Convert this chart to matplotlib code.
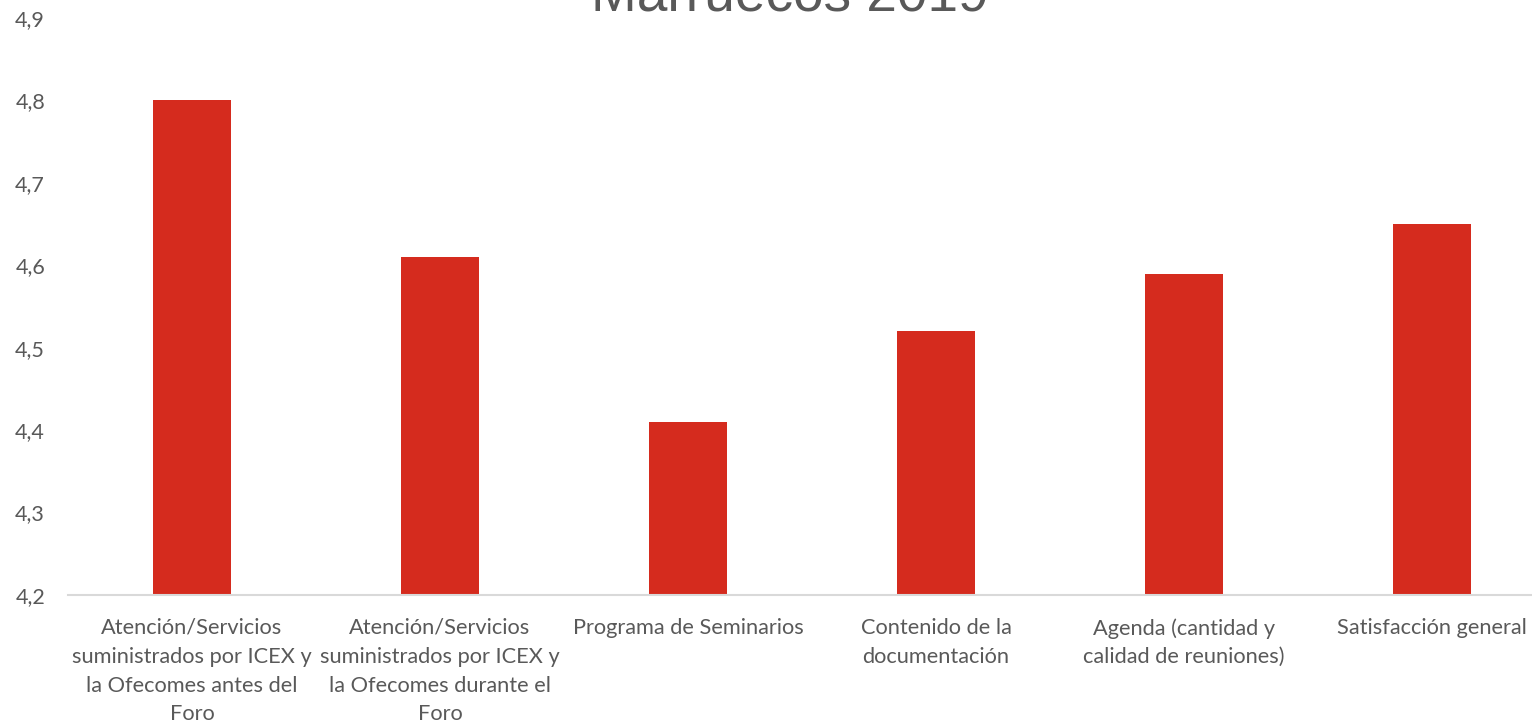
import matplotlib.pyplot as plt
from matplotlib.ticker import FuncFormatter

categorias = [
    "Atención/Servicios\nsuministrados por ICEX y\nla Ofecomes antes del\nForo",
    "Atención/Servicios\nsuministrados por ICEX y\nla Ofecomes durante el\nForo",
    "Programa de Seminarios",
    "Contenido de la\ndocumentación",
    "Agenda (cantidad y\ncalidad de reuniones)",
    "Satisfacción general",
]
valores = [4.80, 4.61, 4.41, 4.52, 4.59, 4.65]
yticks = [4.2, 4.3, 4.4, 4.5, 4.6, 4.7, 4.8, 4.9]

W, H = 1532, 724
fig = plt.figure(figsize=(W / 100, H / 100), dpi=100)
ax = fig.add_axes([68 / W, 1 - 595 / H, (W - 68) / W, (595 - 18) / H])

x = range(len(valores))
ax.bar(x, valores, width=0.315, color="#D52B1E", zorder=2)

ax.set_ylim(4.2, 4.9)
ax.set_xlim(-0.5, 5 + 100 / 248)
ax.set_yticks(yticks)
ax.yaxis.set_major_formatter(FuncFormatter(lambda v, p: f"{v:.1f}".replace(".", ",")))
ax.set_xticks(list(x))
ax.set_xticklabels(categorias, linespacing=1.55)

for s in ["top", "right", "left"]:
    ax.spines[s].set_visible(False)
ax.spines["bottom"].set_color("#D9D9D9")
ax.spines["bottom"].set_linewidth(1.5)
ax.tick_params(axis="both", length=0, colors="#595959")
ax.tick_params(axis="y", pad=16.5, labelsize=15.5)
ax.tick_params(axis="x", pad=16.5, labelsize=15.7)
for lab in ax.get_xticklabels() + ax.get_yticklabels():
    lab.set_fontfamily("Lato")

# title sits partly above the top edge, as in the reference
fig.text(790 / W, 1 - 12 / H, "Marruecos 2019", ha="center", va="baseline",
         fontsize=39.6, color="#595959", fontfamily="Liberation Sans")

fig.savefig("out.png", dpi=100)
